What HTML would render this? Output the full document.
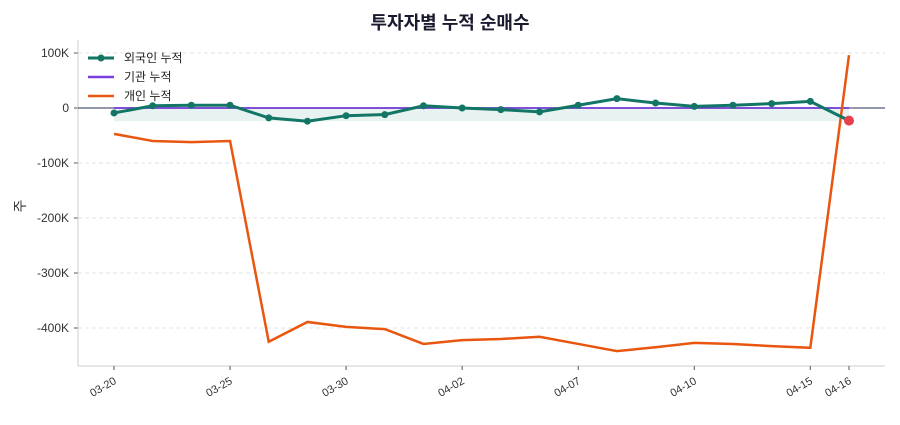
<!DOCTYPE html>
<html><head><meta charset="utf-8"><style>
body{margin:0;background:#fff;font-family:"Liberation Sans","Noto Sans CJK KR",sans-serif}
svg text{font-family:"Liberation Sans","Noto Sans CJK KR",sans-serif}
</style></head><body>
<svg id="c" width="900" height="420"></svg>
<script>
const dates=["03-20","03-21","03-24","03-25","03-26","03-27","03-30","03-31","04-01","04-02","04-03","04-04","04-07","04-08","04-09","04-10","04-11","04-14","04-15","04-16"];
const foreign=[-9,4,5,5,-18,-24,-14,-12,4,0,-3,-7,5,17,9,3,5,8,12,-23];
const institution=[0,0,0,0,0,0,0,0,0,0,0,0,0,0,0,0,0,0,0,0];
const individual=[-47,-60,-62,-60,-425,-389,-398,-402,-429,-422,-420,-416,-429,-442,-435,-427,-429,-433,-436,96];
const yTicks=[100,0,-100,-200,-300,-400];
const xTickIdx=[0,3,6,9,12,15,18,19];
const NS="http://www.w3.org/2000/svg",svg=document.getElementById('c');
const X=i=>114+i*(849-114)/(dates.length-1);
const Y=v=>108-v*0.55;
function el(t,a,p){const e=document.createElementNS(NS,t);for(const k in a)e.setAttribute(k,a[k]);(p||svg).appendChild(e);return e;}
let t=el('text',{x:450,y:29,'text-anchor':'middle','font-size':18,'font-weight':'bold',fill:'#1a1a2e'});t.textContent='투자자별 누적 순매수';

yTicks.forEach(v=>{
 let g=el('line',{x1:78,x2:885,y1:Y(v),y2:Y(v),stroke:'#e3e3e3','stroke-dasharray':'4,3'});
 
 el('line',{x1:74,x2:78,y1:Y(v),y2:Y(v),stroke:'#555'});
 let l=el('text',{x:69,y:Y(v)+4,'text-anchor':'end','font-size':12,fill:'#333'});l.textContent=(v===0?'0':v+'K');
 
});
let yt=el('text',{x:25,y:206,'text-anchor':'middle','font-size':14,fill:'#333',transform:'rotate(-90 25 206)'});yt.textContent='주';

let ax=el('line',{x1:78,x2:78,y1:40,y2:366,stroke:'#ccc'});
let bx=el('line',{x1:78,x2:885,y1:366,y2:366,stroke:'#ccc'});
xTickIdx.forEach(i=>{
 el('line',{x1:X(i),x2:X(i),y1:366,y2:370,stroke:'#555'});
 let l=el('text',{x:X(i)+3,y:383,'text-anchor':'end','font-size':11,fill:'#333',transform:`rotate(-30 ${X(i)+3} 383)`});l.textContent=dates[i];
 
});
const mn=Math.min(...foreign);
let f=el('rect',{x:X(0),y:Y(0),width:X(dates.length-1)-X(0),height:Y(mn)-Y(0),fill:'#e8f2f0'});

let z=el('line',{x1:78,x2:885,y1:Y(0),y2:Y(0),stroke:'#2a3050','stroke-width':1});
const pts=a=>a.map((v,i)=>X(i)+','+Y(v)).join(' ');
let pi=el('polyline',{points:pts(institution),fill:'none',stroke:'#7b3fe4','stroke-width':2,opacity:0.8});

let pd=el('polyline',{points:pts(individual),fill:'none',stroke:'#e8560f','stroke-width':2.5});

let pf=el('polyline',{points:pts(foreign),fill:'none',stroke:'#127566','stroke-width':3});

foreign.forEach((v,i)=>{
 const last=i===foreign.length-1;
 let c=el('circle',{cx:X(i),cy:Y(v),r:last?5:3.5,fill:last?'#e8404a':'#127566'});
 
});
const leg=[['외국인 누적','#127566',true],['기관 누적','#7b3fe4',false],['개인 누적','#e8560f',false]];
leg.forEach((d,k)=>{
 const y=58+k*19;
 let g=el('g',{});
 el('line',{x1:88,x2:114,y1:y,y2:y,stroke:d[1],'stroke-width':d[2]?3:2.5},g);
 if(d[2])el('circle',{cx:101,cy:y,r:3.5,fill:d[1]},g);
 let l=el('text',{x:124,y:y+4,'font-size':12,fill:'#222'},g);l.textContent=d[0];
});
</script>
</body></html>
